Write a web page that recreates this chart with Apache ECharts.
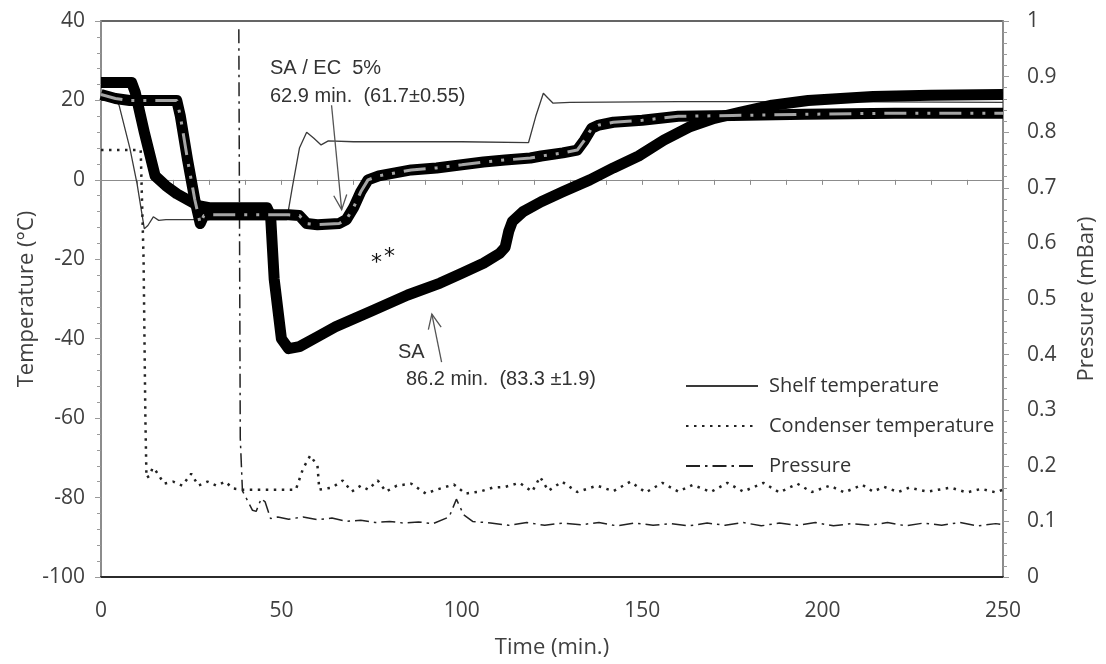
<!DOCTYPE html>
<html>
<head>
<meta charset="utf-8">
<script src="https://cdn.jsdelivr.net/npm/echarts@6/dist/echarts.min.js"></script>
<style>
  html, body { margin: 0; padding: 0; background: #fff; }
  #chart { width: 1106px; height: 664px; }
</style>
</head>
<body>
<div id="chart"></div>
<script>
// shelf temperature (°C)
const shelfTime = [0, 4, 5, 8, 10, 12, 13, 14.5, 16, 18, 51.5, 53, 55, 57, 59, 61, 63, 70, 100, 118.5, 120.5, 122.6, 124, 125.3, 130, 160, 200, 250];
const shelfTemp = [20, 20, 18.8, 8, -1, -12.3, -11.5, -9.3, -10.2, -10, -10, -2, 8, 12, 10.5, 8.8, 9.8, 9.6, 9.6, 9.4, 16, 21.8, 20.5, 19.3, 19.5, 19.7, 19.7, 19.5];

// condenser temperature (°C)
const condTime = [0, 11, 11.8, 12.3, 12.6, 13.5, 14.3, 15, 17.5, 20, 22.5, 25, 27, 29.5, 32, 34.5, 36.5, 39, 43, 48, 54, 56, 58, 60, 60.5, 64, 67, 69.5, 72, 74, 76.7, 79, 82, 86, 90, 93, 97.8, 101, 105, 108.5, 112, 116, 119.5, 121.7, 124, 127.8, 132, 137.5, 142, 146.7, 151, 155.6, 160, 164, 169, 173.6, 178, 183.6, 188, 193, 197, 202, 206, 211, 214, 217, 221, 224, 229, 235.5, 240, 244, 248, 250];
const condTemp = [7.5, 7.5, -20, -60, -75, -74.5, -72.5, -73, -76.5, -76, -77, -74, -77, -76, -77, -76, -77.7, -78, -78, -78, -78, -72.7, -69.4, -72, -78, -77.5, -75.7, -78.5, -77, -78, -75.7, -78.5, -77, -76.5, -79, -78, -76.7, -79, -78.5, -77.5, -77.3, -76.3, -78.5, -74.8, -78.3, -76, -78.6, -77, -78.4, -76, -78.7, -76.3, -78.5, -76.8, -78.6, -76.3, -78.5, -76.3, -78.7, -76.5, -78.6, -77, -78.7, -76.8, -78.5, -77.3, -78.6, -77.5, -78.5, -77.5, -78.7, -77.8, -78.7, -78];

// chamber pressure (mBar)
const presTime = [38.2, 38.6, 39.2, 40, 42, 43, 44.4, 45.5, 47, 49, 52, 56, 60, 64, 68, 72, 76, 80, 84, 88, 92, 96.5, 98.5, 100.5, 103, 108, 113, 118, 123, 128, 133, 138, 143, 148, 153, 158, 163, 168, 173, 178, 183, 188, 193, 198, 203, 208, 213, 218, 223, 228, 233, 238, 243, 248, 250];
const presVal = [0.985, 0.25, 0.155, 0.145, 0.12, 0.118, 0.141, 0.135, 0.105, 0.108, 0.104, 0.108, 0.103, 0.106, 0.1, 0.102, 0.098, 0.1, 0.097, 0.099, 0.096, 0.108, 0.14, 0.112, 0.1, 0.097, 0.093, 0.098, 0.093, 0.097, 0.094, 0.098, 0.092, 0.097, 0.093, 0.096, 0.092, 0.097, 0.093, 0.098, 0.092, 0.097, 0.093, 0.098, 0.092, 0.096, 0.093, 0.098, 0.092, 0.097, 0.093, 0.098, 0.092, 0.096, 0.094];

// product temperature, SA / EC 5% (°C)
const saEcTime = [0, 4, 8, 21, 22, 24, 26, 27.5, 28.5, 30, 52, 55, 57, 60, 66, 68, 70, 72, 74, 77, 80, 86, 93, 100, 106, 112, 119, 122, 128, 132, 134, 136, 138, 142, 150, 160, 175, 195, 220, 250];
const saEcTemp = [21.5, 20.5, 20, 20, 16, 5, -5, -11, -9, -8.8, -8.8, -9, -11, -11.3, -11, -10, -7, -3, 0, 1, 1.5, 2.5, 3, 3.8, 4.5, 5, 5.5, 6, 6.8, 7.5, 10, 13, 13.8, 14.5, 15, 16, 16.2, 16.5, 16.8, 16.8];

// product temperature, SA (°C)
const saTime = [0, 8.5, 9.5, 12, 15, 18, 21, 24, 27, 30, 46, 47, 48, 50, 52, 55, 60, 65, 75, 85, 94, 100, 106, 110.5, 112, 113, 114, 117, 122, 128, 135.5, 142, 149, 156, 163, 170, 177, 186, 196, 214, 230, 250];
const saTemp = [24.5, 24.5, 22, 12, 1, -1.5, -3.5, -5, -6.5, -7, -7, -9, -25, -40, -42.5, -42, -39.5, -37, -33, -29, -26, -23.5, -21, -18.5, -17, -13, -10.5, -8, -5.5, -3, 0, 3, 6, 10, 13.3, 15.5, 17, 18.8, 20, 21, 21.3, 21.5];

function pairs(t, v) { return t.map((x, i) => [x, v[i]]); }

const axisFont = 'Open Sans';
const noSymbol = { color: 'rgba(0,0,0,0)', borderWidth: 0 };
const chart = echarts.init(document.getElementById('chart'));

chart.setOption({
  animation: false,
  backgroundColor: '#fff',
  grid: { left: 101, right: 100, top: 21, bottom: 85, show: true, borderColor: '#333', borderWidth: 1.5 },
  legend: {
    data: ['Shelf temperature', 'Condenser temperature', 'Pressure'],
    orient: 'vertical',
    left: 680, top: 371,
    itemWidth: 72, itemHeight: 14, itemGap: 20,
    textStyle: { fontFamily: axisFont, fontSize: 20, color: '#333', padding: [0, 0, 0, 6] }
  },
  xAxis: [
    {
      type: 'value', min: 0, max: 250, interval: 50, position: 'bottom',
      axisLine: { onZero: false, lineStyle: { color: '#2b2b2b', width: 2 } },
      axisTick: { show: false },
      splitLine: { show: false },
      axisLabel: { fontFamily: axisFont, fontSize: 21, color: '#404040', margin: 24 },
      name: 'Time (min.)', nameLocation: 'middle', nameGap: 60, nameMoveOverlap: false,
      nameTextStyle: { fontFamily: axisFont, fontSize: 22, color: '#404040' }
    },
    {
      type: 'value', min: 0, max: 250, interval: 10, position: 'bottom',
      axisLine: { onZero: true, onZeroAxisIndex: 0, lineStyle: { color: '#8c8c8c', width: 1.2 } },
      axisTick: { show: true, length: 5, lineStyle: { color: '#8c8c8c' } },
      axisLabel: { show: false },
      splitLine: { show: false }
    }
  ],
  yAxis: [
    {
      type: 'value', min: -100, max: 40, interval: 20, position: 'left',
      axisLine: { show: true, onZero: false, lineStyle: { color: '#9a9a9a', width: 1.5 } },
      axisTick: { show: true, length: 6, lineStyle: { color: '#9a9a9a' } },
      minorTick: { show: true, splitNumber: 5, length: 4, lineStyle: { color: '#9a9a9a' } },
      splitLine: { show: false },
      axisLabel: { fontFamily: axisFont, fontSize: 21, color: '#404040', margin: 16 },
      name: 'Temperature (°C)', nameLocation: 'middle', nameGap: 63, nameMoveOverlap: false,
      nameTextStyle: { fontFamily: axisFont, fontSize: 22, color: '#404040' }
    },
    {
      type: 'value', min: 0, max: 1, interval: 0.1, position: 'right',
      axisLine: { show: true, onZero: false, lineStyle: { color: '#9a9a9a', width: 1.5 } },
      axisTick: { show: true, length: 6, lineStyle: { color: '#9a9a9a' } },
      minorTick: { show: true, splitNumber: 5, length: 4, lineStyle: { color: '#9a9a9a' } },
      splitLine: { show: false },
      axisLabel: {
        fontFamily: axisFont, fontSize: 21, color: '#404040', margin: 24,
        formatter: v => (v === 0 || v === 1) ? String(v) : v.toFixed(1)
      },
      name: 'Pressure (mBar)', nameLocation: 'middle', nameGap: 73, nameMoveOverlap: false,
      nameTextStyle: { fontFamily: axisFont, fontSize: 22, color: '#404040' }
    }
  ],
  series: [
    {
      name: 'Shelf temperature', type: 'line', data: pairs(shelfTime, shelfTemp),
      symbol: 'none', z: 2, itemStyle: noSymbol, lineStyle: { color: '#3a3a3a', width: 1.3 }
    },
    {
      name: 'Condenser temperature', type: 'line', data: pairs(condTime, condTemp),
      symbol: 'none', z: 2, itemStyle: noSymbol, lineStyle: { color: '#222', width: 2.5, type: [2.5, 5.5], cap: 'butt' }
    },
    {
      name: 'Pressure', type: 'line', yAxisIndex: 1, data: pairs(presTime, presVal),
      symbol: 'none', z: 2, itemStyle: noSymbol, lineStyle: { color: '#222', width: 1.5, type: [14, 5, 2.5, 5] }
    },
    {
      name: 'SA / EC 5%', type: 'line', data: pairs(saEcTime, saEcTemp),
      symbol: 'none', z: 3, lineStyle: { color: '#000', width: 11, join: 'round' }
    },
    {
      name: 'SA', type: 'line', data: pairs(saTime, saTemp),
      symbol: 'none', z: 3, lineStyle: { color: '#000', width: 11, join: 'round' }
    },
    {
      name: 'SA / EC 5% centre', type: 'line', data: pairs(saEcTime, saEcTemp),
      symbol: 'none', z: 4, lineStyle: { color: '#a5a5a5', width: 3, type: [22, 9, 3, 9, 3, 9] }
    }
  ]
});

// annotations: arrows placed through the chart's own coordinate system
function arrow(from, to) {
  const p0 = chart.convertToPixel({ xAxisIndex: 0, yAxisIndex: 0 }, from);
  const p1 = chart.convertToPixel({ xAxisIndex: 0, yAxisIndex: 0 }, to);
  const dx = p1[0] - p0[0], dy = p1[1] - p0[1];
  const len = Math.hypot(dx, dy), ux = dx / len, uy = dy / len;
  const L = 16, a = 0.42;
  const h1 = [p1[0] - L * (ux * Math.cos(a) - uy * Math.sin(a)), p1[1] - L * (uy * Math.cos(a) + ux * Math.sin(a))];
  const h2 = [p1[0] - L * (ux * Math.cos(a) + uy * Math.sin(a)), p1[1] - L * (uy * Math.cos(a) - ux * Math.sin(a))];
  return [
    { type: 'polyline', z: 10, shape: { points: [p0, p1] }, style: { stroke: '#555', lineWidth: 1.3, fill: null } },
    { type: 'polyline', z: 10, shape: { points: [h1, p1, h2] }, style: { stroke: '#555', lineWidth: 1.3, fill: null } }
  ];
}

const labelFont = '20px "Liberation Sans", Arial, sans-serif';
chart.setOption({
  graphic: [
    ...arrow([63.9, 18.8], [66.7, -7.5]),
    ...arrow([94.4, -45.9], [91.7, -33.8]),
    { type: 'text', left: 270, top: 58, z: 10, style: { text: 'SA / EC  5%', font: labelFont, fill: '#333' } },
    { type: 'text', left: 270, top: 86, z: 10, style: { text: '62.9 min.  (61.7±0.55)', font: labelFont, fill: '#333' } },
    { type: 'text', left: 398, top: 342, z: 10, style: { text: 'SA', font: labelFont, fill: '#333' } },
    { type: 'text', left: 406, top: 369, z: 10, style: { text: '86.2 min.  (83.3 ±1.9)', font: labelFont, fill: '#333' } },
    { type: 'text', left: 371, top: 252, z: 10, style: { text: '*', font: '22px "DejaVu Sans", sans-serif', fill: '#111' } },
    { type: 'text', left: 384, top: 246, z: 10, style: { text: '*', font: '22px "DejaVu Sans", sans-serif', fill: '#111' } }
  ]
});
</script>
</body>
</html>
